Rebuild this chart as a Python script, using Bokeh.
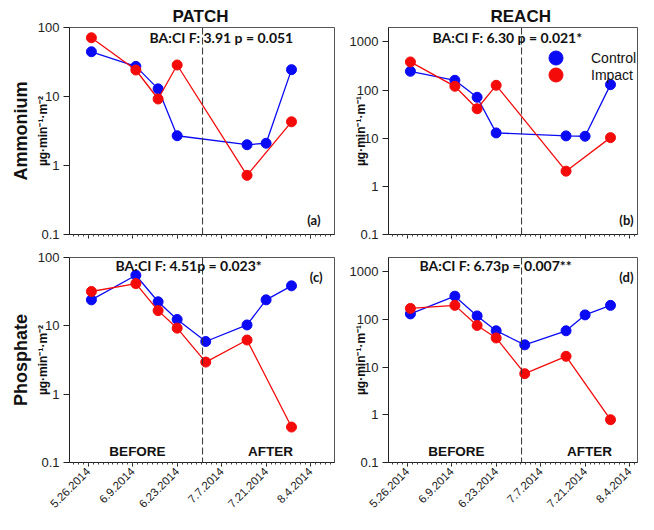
import math
import numpy as np
import pandas as pd
from bokeh.plotting import figure
from bokeh.layouts import column, row
from bokeh.models import Range1d, FixedTicker, Span, Label, Legend, LegendItem, Title
from bokeh.embed import file_html
from bokeh.resources import INLINE

# ---------------- data ----------------
dates_no_0702 = ["2014-05-27", "2014-06-10", "2014-06-17", "2014-06-23", "2014-07-15", "2014-07-21", "2014-07-29"]
dates_no_0721_0702 = ["2014-05-27", "2014-06-10", "2014-06-17", "2014-06-23", "2014-07-15", "2014-07-29"]
dates_all = ["2014-05-27", "2014-06-10", "2014-06-17", "2014-06-23", "2014-07-02", "2014-07-15", "2014-07-21", "2014-07-29"]
dates_no_0721 = ["2014-05-27", "2014-06-10", "2014-06-17", "2014-06-23", "2014-07-02", "2014-07-15", "2014-07-29"]

amm_patch_control = [44.5, 27.3, 12.9, 2.7, 2.0, 2.1, 24.5]
amm_patch_impact = [71, 24.2, 9.2, 28.6, 0.72, 4.3]
amm_reach_control = [246, 160, 71, 12.9, 11.2, 11.0, 130]
amm_reach_impact = [385, 120, 41, 126, 2.07, 10.3]
pho_patch_control = [24, 55, 22.5, 12.4, 5.9, 10.3, 24, 38.5]
pho_patch_impact = [31.8, 41.5, 16.7, 9.25, 2.95, 6.2, 0.33]
pho_reach_control = [131, 309, 119, 58, 29.4, 58, 125, 198]
pho_reach_impact = [171, 198, 75, 41, 7.3, 16.9, 0.79]

tick_dates = ["2014-05-26", "2014-06-09", "2014-06-23", "2014-07-07", "2014-07-21", "2014-08-04"]
tick_labels = ["5.26.2014", "6.9.2014", "6.23.2014", "7.7.2014", "7.21.2014", "8.4.2014"]
treatment_date = "2014-07-01"

stats = ["BA:CI F: 3.91 p = 0.051", "BA:CI F: 6.30 p = 0.021*", "BA:CI F: 4.51p = 0.023*", "BA:CI F: 6.73p = 0.007**"]
panel_letters = ["(a)", "(b)", "(c)", "(d)"]
units_patch = "µg·min⁻¹·m⁻²"
units_reach = "µg·min⁻¹·m⁻¹"

BLUE = "#0a0af5"
RED = "#f50a0a"
DAY = 86400000.0


def ms(d):
    return pd.Timestamp(d).value / 1e6


x_start = ms("2014-05-26") - 5.9 * DAY
PX_PER_DAY = 3.176

major_ticks = [ms(d) for d in tick_dates]
minor_ticks = list(np.arange(ms("2014-05-26") - 14 * DAY, ms("2014-08-18"), 14 * DAY / 9))
overrides = {t: l for t, l in zip(major_ticks, tick_labels)}
blank_overrides = {t: "" for t in major_ticks}
y_overrides = {0.1: "0.1", 1: "1", 10: "10", 100: "100", 1000: "1000"}

FW_L, FW_R, FH = 265, 249, 207


def make_panel(frame_w, y_top, b_left, b_right, b_top, b_bottom, show_xlabels, units, units_standoff):
    x_end = x_start + frame_w / PX_PER_DAY * DAY
    p = figure(width=b_left + frame_w + b_right, height=b_top + FH + b_bottom,
               x_range=Range1d(x_start, x_end), y_range=Range1d(0.1, y_top),
               y_axis_type="log", output_backend="svg", toolbar_location=None,
               min_border_left=b_left, min_border_right=b_right,
               min_border_top=b_top, min_border_bottom=b_bottom)
    p.xgrid.visible = False
    p.ygrid.visible = False
    p.outline_line_color = "#555555"
    p.background_fill_color = "white"
    p.border_fill_color = "white"
    xa = p.xaxis[0]
    xa.ticker = FixedTicker(ticks=major_ticks, minor_ticks=minor_ticks)
    xa.axis_line_color = "#222222"
    xa.major_tick_line_color = "#222222"
    xa.minor_tick_line_color = "#444444"
    xa.major_tick_out = 4
    xa.major_tick_in = 0
    xa.minor_tick_out = 2
    xa.minor_tick_in = 0
    xa.major_label_text_font = "Liberation Sans"
    xa.major_label_text_color = "#222222"
    if show_xlabels:
        xa.major_label_overrides = overrides
        xa.major_label_orientation = math.pi / 4
        xa.major_label_text_font_size = "11.5px"
        xa.major_label_standoff = 3
    else:
        xa.major_label_overrides = blank_overrides
        xa.major_label_text_font_size = "1px"
        xa.major_label_standoff = 0
    ya = p.yaxis[0]
    ticks = [0.1, 1, 10, 100] + ([1000] if y_top > 1000 else [])
    ya.ticker = FixedTicker(ticks=ticks, minor_ticks=[])
    ya.major_label_overrides = y_overrides
    ya.axis_line_color = "#222222"
    ya.major_tick_line_color = "#222222"
    ya.minor_tick_line_color = None
    ya.major_tick_out = 6
    ya.major_tick_in = 0
    ya.major_label_text_font = "Liberation Sans"
    ya.major_label_text_font_size = "13px"
    ya.major_label_text_color = "#222222"
    ya.major_label_standoff = 4
    ya.axis_label = units
    ya.axis_label_text_font = "Liberation Sans"
    ya.axis_label_text_font_size = "12px"
    ya.axis_label_text_font_style = "bold"
    ya.axis_label_text_color = "#111111"
    ya.axis_label_standoff = units_standoff
    p.add_layout(Span(location=ms(treatment_date), dimension="height",
                      line_color="#333333", line_width=1, line_dash="7 3"))
    return p


def add_series(p, dates, vals, color):
    xs = [ms(d) for d in dates]
    p.line(xs, vals, line_color=color, line_width=1.3)
    return p.scatter(xs, vals, size=10, fill_color=color, line_color=color)


def lab(p, text, x, y, size, bold=True, font="Liberation Sans", align="center"):
    p.add_layout(Label(x=x, y=y, x_units="screen", y_units="screen", text=text,
                       text_font=font, text_font_size=size,
                       text_font_style="bold" if bold else "normal",
                       text_align=align, text_baseline="middle",
                       text_color="#111111"))


def side_title(p, text):
    p.add_layout(Title(text=text, align="center", text_font="Liberation Sans",
                       text_font_size="18px", text_font_style="bold",
                       text_color="#111111", standoff=3), "left")


def top_title(p, text, offset):
    p.title.text = text
    p.title.align = "left"
    p.title.offset = offset
    p.title.text_font = "Liberation Sans"
    p.title.text_font_size = "17px"
    p.title.text_font_style = "bold"
    p.title.text_color = "#111111"
    p.title.standoff = 3


tl = make_panel(FW_L, 100, 69, 2, 27, 10, False, units_patch, -15)
tr = make_panel(FW_R, 2000, 52, 1, 27, 10, False, units_reach, -21)
bl = make_panel(FW_L, 100, 69, 2, 13, 50, True, units_patch, -15)
br = make_panel(FW_R, 2000, 52, 1, 13, 50, True, units_reach, -21)

add_series(tl, dates_no_0702, amm_patch_control, BLUE)
add_series(tl, dates_no_0721_0702, amm_patch_impact, RED)
rc = add_series(tr, dates_no_0702, amm_reach_control, BLUE)
ri = add_series(tr, dates_no_0721_0702, amm_reach_impact, RED)
add_series(bl, dates_all, pho_patch_control, BLUE)
add_series(bl, dates_no_0721, pho_patch_impact, RED)
add_series(br, dates_all, pho_reach_control, BLUE)
add_series(br, dates_no_0721, pho_reach_impact, RED)

for item_label, rend, ypos in [("Control", rc, 159), ("Impact", ri, 142)]:
    lg = Legend(items=[LegendItem(label=item_label, renderers=[rend])],
                location=(150, ypos), glyph_width=35, glyph_height=35, spacing=0,
                padding=0, margin=0, label_standoff=18, border_line_color=None,
                background_fill_alpha=0, label_text_font="Liberation Sans",
                label_text_font_size="14px", label_text_color="#111111")
    tr.add_layout(lg)

top_title(tl, "PATCH", 103)
top_title(tr, "REACH", 102)
side_title(tl, "Ammonium")
side_title(bl, "Phosphate")

for p, s, x in zip([tl, tr, bl, br], stats, [80, 44, 46, 31]):
    lab(p, s, x, 197, "14px", font="Lato", align="left")
lab(tl, panel_letters[0], 251, 15, "13px", font="Lato", align="right")
lab(tr, panel_letters[1], 245, 15, "13px", font="Lato", align="right")
lab(bl, panel_letters[2], 253, 186, "13px", font="Lato", align="right")
lab(br, panel_letters[3], 245, 186, "13px", font="Lato", align="right")
for p in [bl, br]:
    lab(p, "BEFORE", 68, 11, "13.5px")
    lab(p, "AFTER", 201, 11, "13.5px")

layout = column(row(tl, tr), row(bl, br))
open("out.html", "w").write(file_html(layout, INLINE))
